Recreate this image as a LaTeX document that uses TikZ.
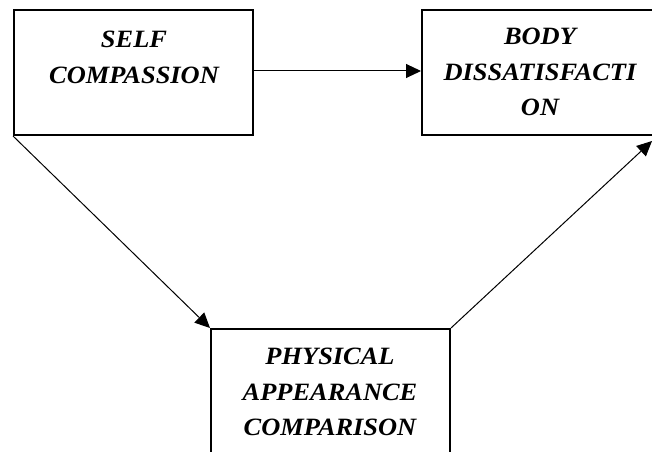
\documentclass[tikz,border=0pt]{standalone}
\usepackage{fontspec}
\setmainfont{Liberation Serif}
\newfontfamily\lblfont[FakeStretch=1.06]{Liberation Serif}
\usetikzlibrary{arrows.meta}
\begin{document}
\begin{tikzpicture}[x=1bp,y=-1bp,
  box/.style={draw=black,line width=2bp,inner sep=0pt,fill=white},
  lbl/.style={anchor=north,inner sep=0pt,align=center,
    font=\lblfont\fontsize{25}{35.5}\selectfont\bfseries\itshape},
  conn/.style={line width=1bp,-{Triangle[length=15bp,width=14bp]}}]
\clip (0,0) rectangle (652,452);
\useasboundingbox (0,0) rectangle (652,452);
\fill[white] (0,0) rectangle (652,452);
\node[box,minimum width=239bp,minimum height=125bp] (sc) at (133.5,72.5) {};
\node[box,minimum width=236bp,minimum height=125bp] (bd) at (540,72.5) {};
\node[box,minimum width=239bp,minimum height=140bp] (pac) at (330.5,399) {};
\node[lbl] (sct) at (134,31) {SELF\\COMPASSION};
\node[lbl] (bdt) at (540,28) {BODY\\DISSATISFACTI\\ON};
\node[lbl] (pact) at (330,348) {PHYSICAL\\APPEARANCE\\COMPARISON};
\coordinate (t3) at (652,141);
\draw[conn] (sc.east |- 0,71) -- (bd.west |- 0,71);
\draw[conn] (sc.south west) -- (pac.north west);
\draw[conn] (pac.north east) -- (t3);
\end{tikzpicture}
\end{document}
